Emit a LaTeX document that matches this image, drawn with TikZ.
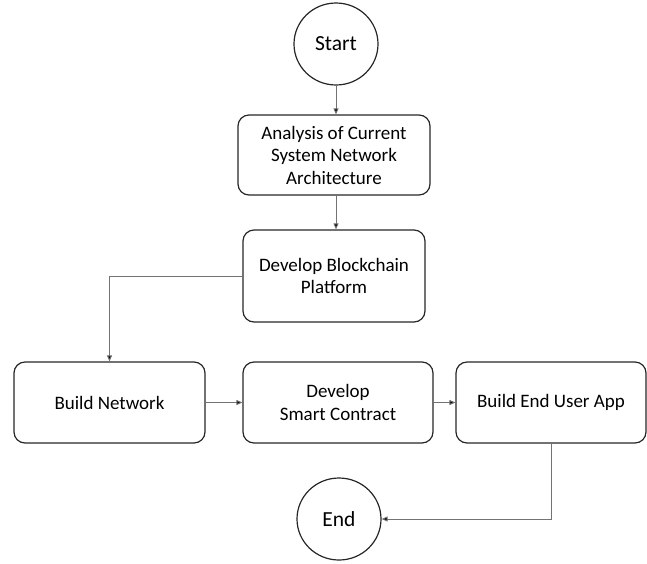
\documentclass[tikz,border=0pt]{standalone}
\usepackage{fontspec}
\setmainfont{Carlito}
\usetikzlibrary{arrows.meta,shapes.geometric}
\begin{document}
\begin{tikzpicture}[x=1pt,y=-1pt,
  stepbox/.style={draw=black!85,line width=1.2pt,rounded corners=11pt,align=center,
    font=\fontsize{19}{22.5}\selectfont,inner sep=0pt},
  terminal/.style={draw=black!85,line width=1.2pt,ellipse,inner sep=0pt,
    minimum width=84pt,minimum height=82pt,font=\fontsize{21.5}{24}\selectfont},
  link/.style={draw=black!55,line width=0.9pt,-{Triangle[length=6pt,width=5pt,fill=black]}}]
\useasboundingbox (0,0) rectangle (647,563);
% start and end terminals
\node[terminal] (start) at (336,44) {Start};
\node[terminal] (end) at (339,519) {End};
% process boxes
\node[stepbox,minimum width=192pt,minimum height=80pt] (analysis) at (334,155)
  {Analysis of Current\\System Network\\Architecture};
\node[stepbox,minimum width=182pt,minimum height=92pt] (platform) at (334,276)
  {Develop Blockchain\\Platform};
\node[stepbox,minimum width=191pt,minimum height=81pt] (network) at (109.5,402.5)
  {Build Network};
\node[stepbox,minimum width=190pt,minimum height=81pt] (contract) at (338,402.5)
  {Develop\\Smart Contract};
\node[stepbox,minimum width=190pt,minimum height=81pt] (app) at (551,402.5)
  {Build End User App};
% connectors
\draw[link] (start.south) -- (start.south |- analysis.north);
\draw[link] (analysis.south -| start.south) -- (platform.north -| start.south);
\draw[link] (platform.west) -| (network.north);
\draw[link] (network.east) -- (contract.west);
\draw[link] (contract.east) -- (app.west);
\draw[link] (app.south) |- (end.east);
\end{tikzpicture}
\end{document}
